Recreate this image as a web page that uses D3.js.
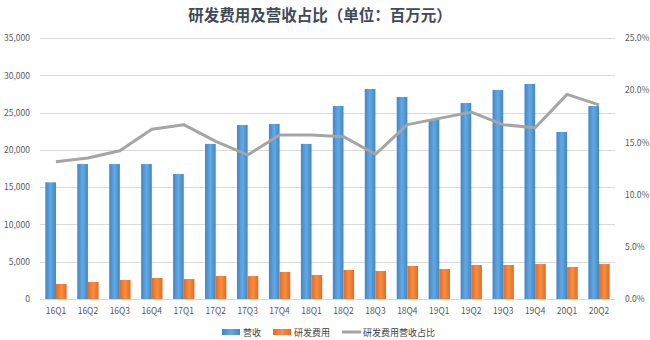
<!DOCTYPE html>
<html><head><meta charset="utf-8">
<script src="https://cdn.jsdelivr.net/npm/d3@7"></script>
<style>
body{margin:0;background:#fff;}
text{font-family:"Noto Sans CJK SC","DejaVu Sans",sans-serif;}
</style></head>
<body><svg id="c" width="650" height="340"></svg>
<script>
const categories=["16Q1","16Q2","16Q3","16Q4","17Q1","17Q2","17Q3","17Q4","18Q1","18Q2","18Q3","18Q4","19Q1","19Q2","19Q3","19Q4","20Q1","20Q2"];
const revenue=[15650,18100,18100,18100,16760,20800,23330,23470,20800,25880,28160,27090,24000,26280,28030,28830,22400,25880];
const rdExpense=[2010,2280,2550,2820,2680,3080,3080,3620,3220,3890,3750,4430,4020,4560,4560,4690,4290,4690];
const rdRatio=[13.15,13.5,14.2,16.25,16.7,15.1,13.8,15.7,15.7,15.55,13.86,16.7,17.3,17.9,16.7,16.4,19.6,18.6];
const leftTicks=[0,5000,10000,15000,20000,25000,30000,35000];
const rightTicks=[0,5,10,15,20,25];
const seriesNames=["营收","研发费用","研发费用营收占比"];
const title="研发费用及营收占比（单位：百万元）";

const svg=d3.select("#c");
const x0=40,x1=615,yTop=38,yBot=299;
const x=d3.scaleBand().domain(categories).range([x0,x1]).paddingInner(0).paddingOuter(0);
const xs=d3.scaleBand().domain([0,1]).range([0,x.bandwidth()]).paddingInner(0).paddingOuter(0.5);
const yL=d3.scaleLinear().domain([0,35000]).range([yBot,yTop]);
const yR=d3.scaleLinear().domain([0,25]).range([yBot,yTop]);

const defs=svg.append("defs");
const gb=defs.append("linearGradient").attr("id","gb").attr("x1","0").attr("x2","1").attr("y1","0").attr("y2","0");
gb.append("stop").attr("offset","0").attr("stop-color","#3f86c9");
gb.append("stop").attr("offset","0.5").attr("stop-color","#66a8e0");
gb.append("stop").attr("offset","1").attr("stop-color","#3f86c9");
const go=defs.append("linearGradient").attr("id","go").attr("x1","0").attr("x2","1").attr("y1","0").attr("y2","0");
go.append("stop").attr("offset","0").attr("stop-color","#e96a1c");
go.append("stop").attr("offset","0.5").attr("stop-color","#f58f46");
go.append("stop").attr("offset","1").attr("stop-color","#e96a1c");

// title
svg.append("text").attr("x",320).attr("y",21).attr("text-anchor","middle")
  .attr("font-size",15.5).attr("font-weight","bold").attr("fill","#404a5a").text(title);

// gridlines
svg.append("g").selectAll("line").data(leftTicks).join("line")
  .attr("x1",x0).attr("x2",x1).attr("y1",d=>Math.round(yL(d))+0.5).attr("y2",d=>Math.round(yL(d))+0.5)
  .attr("stroke","#d9d9d9").attr("stroke-width",1);

// left axis
const fmt=d3.format(",");
const la=svg.append("g").attr("transform",`translate(${x0},0)`)
  .call(d3.axisLeft(yL).tickValues(leftTicks).tickFormat(fmt).tickSize(0).tickPadding(10));
la.select(".domain").remove();
la.selectAll("text").attr("font-size",8.5).attr("fill","#595959").attr("font-family","'Liberation Sans',sans-serif");

// right axis
const ra=svg.append("g").attr("transform",`translate(${x1},0)`)
  .call(d3.axisRight(yR).tickValues(rightTicks).tickFormat(d=>d.toFixed(1)+"%").tickSize(0).tickPadding(10));
ra.select(".domain").remove();
ra.selectAll("text").attr("font-size",8.5).attr("fill","#595959").attr("font-family","'Liberation Sans',sans-serif");

// bottom axis
const ba=svg.append("g").attr("transform",`translate(0,${yBot})`)
  .call(d3.axisBottom(x).tickSize(0).tickPadding(9));
ba.select(".domain").attr("stroke","#d9d9d9");
ba.selectAll("text").attr("font-size",8.5).attr("fill","#595959").attr("font-family","'Liberation Sans',sans-serif");

// bars
const g=svg.append("g");
g.selectAll("rect.rev").data(revenue).join("rect").attr("class","rev")
  .attr("x",(d,i)=>x(categories[i])+xs(0)).attr("width",xs.bandwidth())
  .attr("y",d=>yL(d)).attr("height",d=>yBot-yL(d)).attr("fill","url(#gb)");
g.selectAll("rect.rd").data(rdExpense).join("rect").attr("class","rd")
  .attr("x",(d,i)=>x(categories[i])+xs(1)).attr("width",xs.bandwidth())
  .attr("y",d=>yL(d)).attr("height",d=>yBot-yL(d)).attr("fill","url(#go)");

// line
const line=d3.line().x((d,i)=>x(categories[i])+x.bandwidth()/2).y(d=>yR(d));
svg.append("path").datum(rdRatio).attr("d",line).attr("fill","none")
  .attr("stroke","#a5a5a5").attr("stroke-width",3).attr("stroke-linejoin","round");

// legend
const lg=svg.append("g").attr("font-size",9).attr("fill","#595959");
lg.append("rect").attr("x",222).attr("y",329).attr("width",18).attr("height",6).attr("fill","url(#gb)");
lg.append("text").attr("x",243).attr("y",335.5).attr("fill","#404040").text(seriesNames[0]);
lg.append("rect").attr("x",273).attr("y",329).attr("width",18).attr("height",6).attr("fill","url(#go)");
lg.append("text").attr("x",294).attr("y",335.5).attr("fill","#404040").text(seriesNames[1]);
lg.append("line").attr("x1",342).attr("x2",361).attr("y1",332).attr("y2",332).attr("stroke","#a5a5a5").attr("stroke-width",3);
lg.append("text").attr("x",363).attr("y",335.5).attr("fill","#404040").text(seriesNames[2]);
</script></body></html>
